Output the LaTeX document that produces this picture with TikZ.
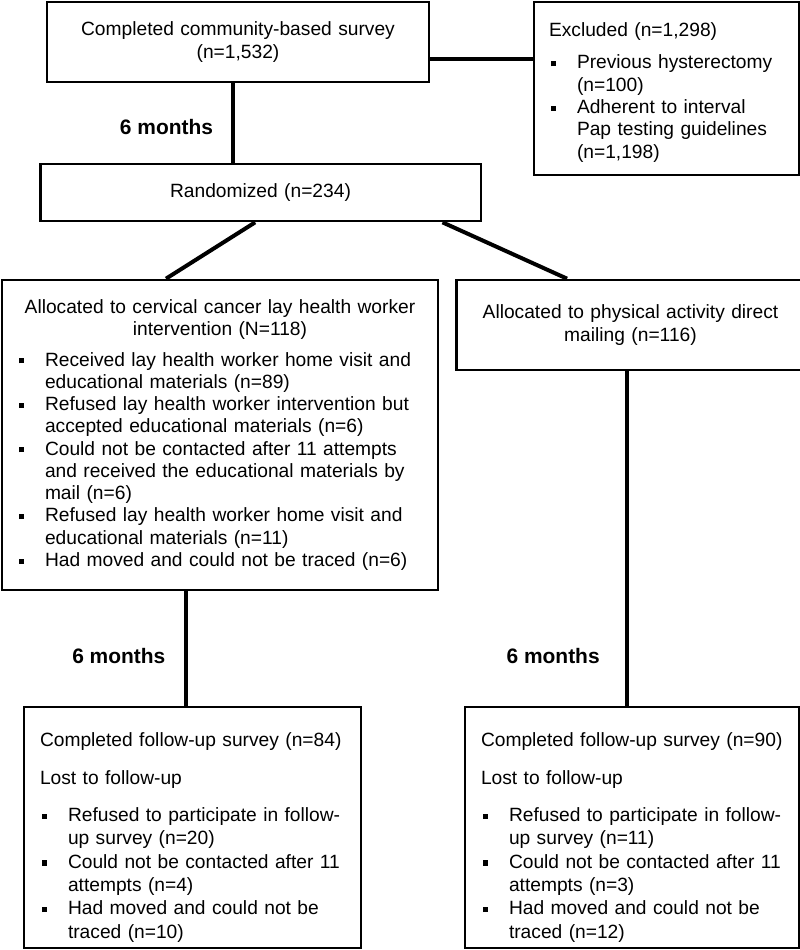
\documentclass[tikz,border=0pt]{standalone}
\usepackage{fontspec}
\setmainfont{Liberation Sans}
\usetikzlibrary{positioning}
\setlength{\parindent}{0pt}
\newcommand{\sqbul}{\raisebox{2pt}{\rule{3.8pt}{3.8pt}}}
\newcommand{\bitem}[1]{\par\noindent\hangindent=21pt\hangafter=1\makebox[21pt][l]{\hspace{1.5pt}\sqbul}#1}
\begin{document}
\begin{tikzpicture}[
          x=0.75pt, y=-0.75pt, % 以像素为单位
          every node/.style={font=\fontsize{14.4pt}{16.7pt}\selectfont},
          box/.style={draw, line width=2pt, inner xsep=11.25pt, inner ysep=0pt},
          fubox/.style={box, inner xsep=12pt, font=\fontsize{14.4pt}{17.5pt}\selectfont},
          link/.style={line width=3pt},
          months/.style={font=\fontsize{15.7pt}{18pt}\selectfont\bfseries, inner sep=0pt}
      ]
        \useasboundingbox (0,0) rectangle (800,950);
        % 上部: 调查与排除
        \node[box, align=center, text width=264pt, minimum width=286.5pt, minimum height=60pt] (survey) at (238,42)
          {Completed community-based survey\\(n=1,532)};
        \node[box, align=left, text width=176.25pt, minimum width=198.75pt, minimum height=129.75pt] (excluded) at (666.5,88.5)
          {\rule{0pt}{16.5pt}Excluded (n=1,298)\par\vspace{7.3pt}%
           \bitem{Previous hysterectomy\newline(n=100)}%
           \bitem{Adherent to interval\newline Pap testing guidelines\newline(n=1,198)}\par};
        \node[box, align=center, text width=308pt, minimum width=320.25pt, minimum height=42.75pt] (random) at (260.5,192.5)
          {Randomized (n=234)};
        % 两个分组
        \node[box, align=left, text width=304.5pt, minimum width=327pt, minimum height=232.5pt] (lhw) at (220,435)
          {{\centering Allocated to cervical cancer lay health worker\\intervention (N=118)\par}\vspace{6pt}%
           \bitem{Received lay health worker home visit and\newline educational materials (n=89)}%
           \bitem{Refused lay health worker intervention but\newline accepted educational materials (n=6)}%
           \bitem{Could not be contacted after 11 attempts\newline and received the educational materials by\newline mail (n=6)}%
           \bitem{Refused lay health worker home visit and\newline educational materials (n=11)}%
           \bitem{Had moved and could not be traced (n=6)}\par};
        \node[box, align=center, text width=239pt, minimum width=251.25pt, minimum height=67.5pt] (mail) at (630.5,325)
          {Allocated to physical activity direct\\mailing (n=116)};
        % 随访
        \node[fubox, align=left, text width=228.75pt, minimum width=252.75pt, minimum height=180.75pt] (fu-lhw) at (192.5,827.5)
          {\rule{0pt}{25.5pt}Completed follow-up survey (n=84)\par\vspace{10.5pt}%
           Lost to follow-up\par\vspace{10.5pt}%
           \bitem{Refused to participate in follow-\newline up survey (n=20)}%
           \bitem{Could not be contacted after 11\newline attempts (n=4)}%
           \bitem{Had moved and could not be\newline traced (n=10)}\par};
        \node[fubox, align=left, text width=226.5pt, minimum width=250.5pt, minimum height=180.75pt] (fu-mail) at (632,827.5)
          {\rule{0pt}{25.5pt}Completed follow-up survey (n=90)\par\vspace{10.5pt}%
           Lost to follow-up\par\vspace{10.5pt}%
           \bitem{Refused to participate in follow-\newline up survey (n=11)}%
           \bitem{Could not be contacted after 11\newline attempts (n=3)}%
           \bitem{Had moved and could not be\newline traced (n=12)}\par};
        % 连线
        \coordinate (excl-in) at ([yshift=-12.75pt]survey.east);
        \draw[link] (excl-in) -- (excl-in -| excluded.west);
        \coordinate (rand-in) at ([xshift=-3.75pt]survey.south);
        \draw[link] (rand-in) -- (rand-in |- random.north) node[months, pos=0.55, left=13.5pt] (m-top) {6 months};
        \draw[link] ([xshift=-4pt]random.south) -- ([xshift=-40.5pt]lhw.north);
        \draw[link] ([xshift=136.5pt]random.south) -- ([xshift=-47.6pt]mail.north);
        \coordinate (fu-l) at ([xshift=-4.9pt]fu-lhw.north);
        \draw[link] (fu-l |- lhw.south) -- (fu-l) node[months, pos=0.57, left=14pt] (m-left) {6 months};
        \coordinate (fu-r) at ([xshift=-3.75pt]fu-mail.north);
        \draw[link] (fu-r |- mail.south) -- (fu-r) node[months, pos=0.85, left=19pt] (m-right) {6 months};
      \end{tikzpicture}
\end{document}
